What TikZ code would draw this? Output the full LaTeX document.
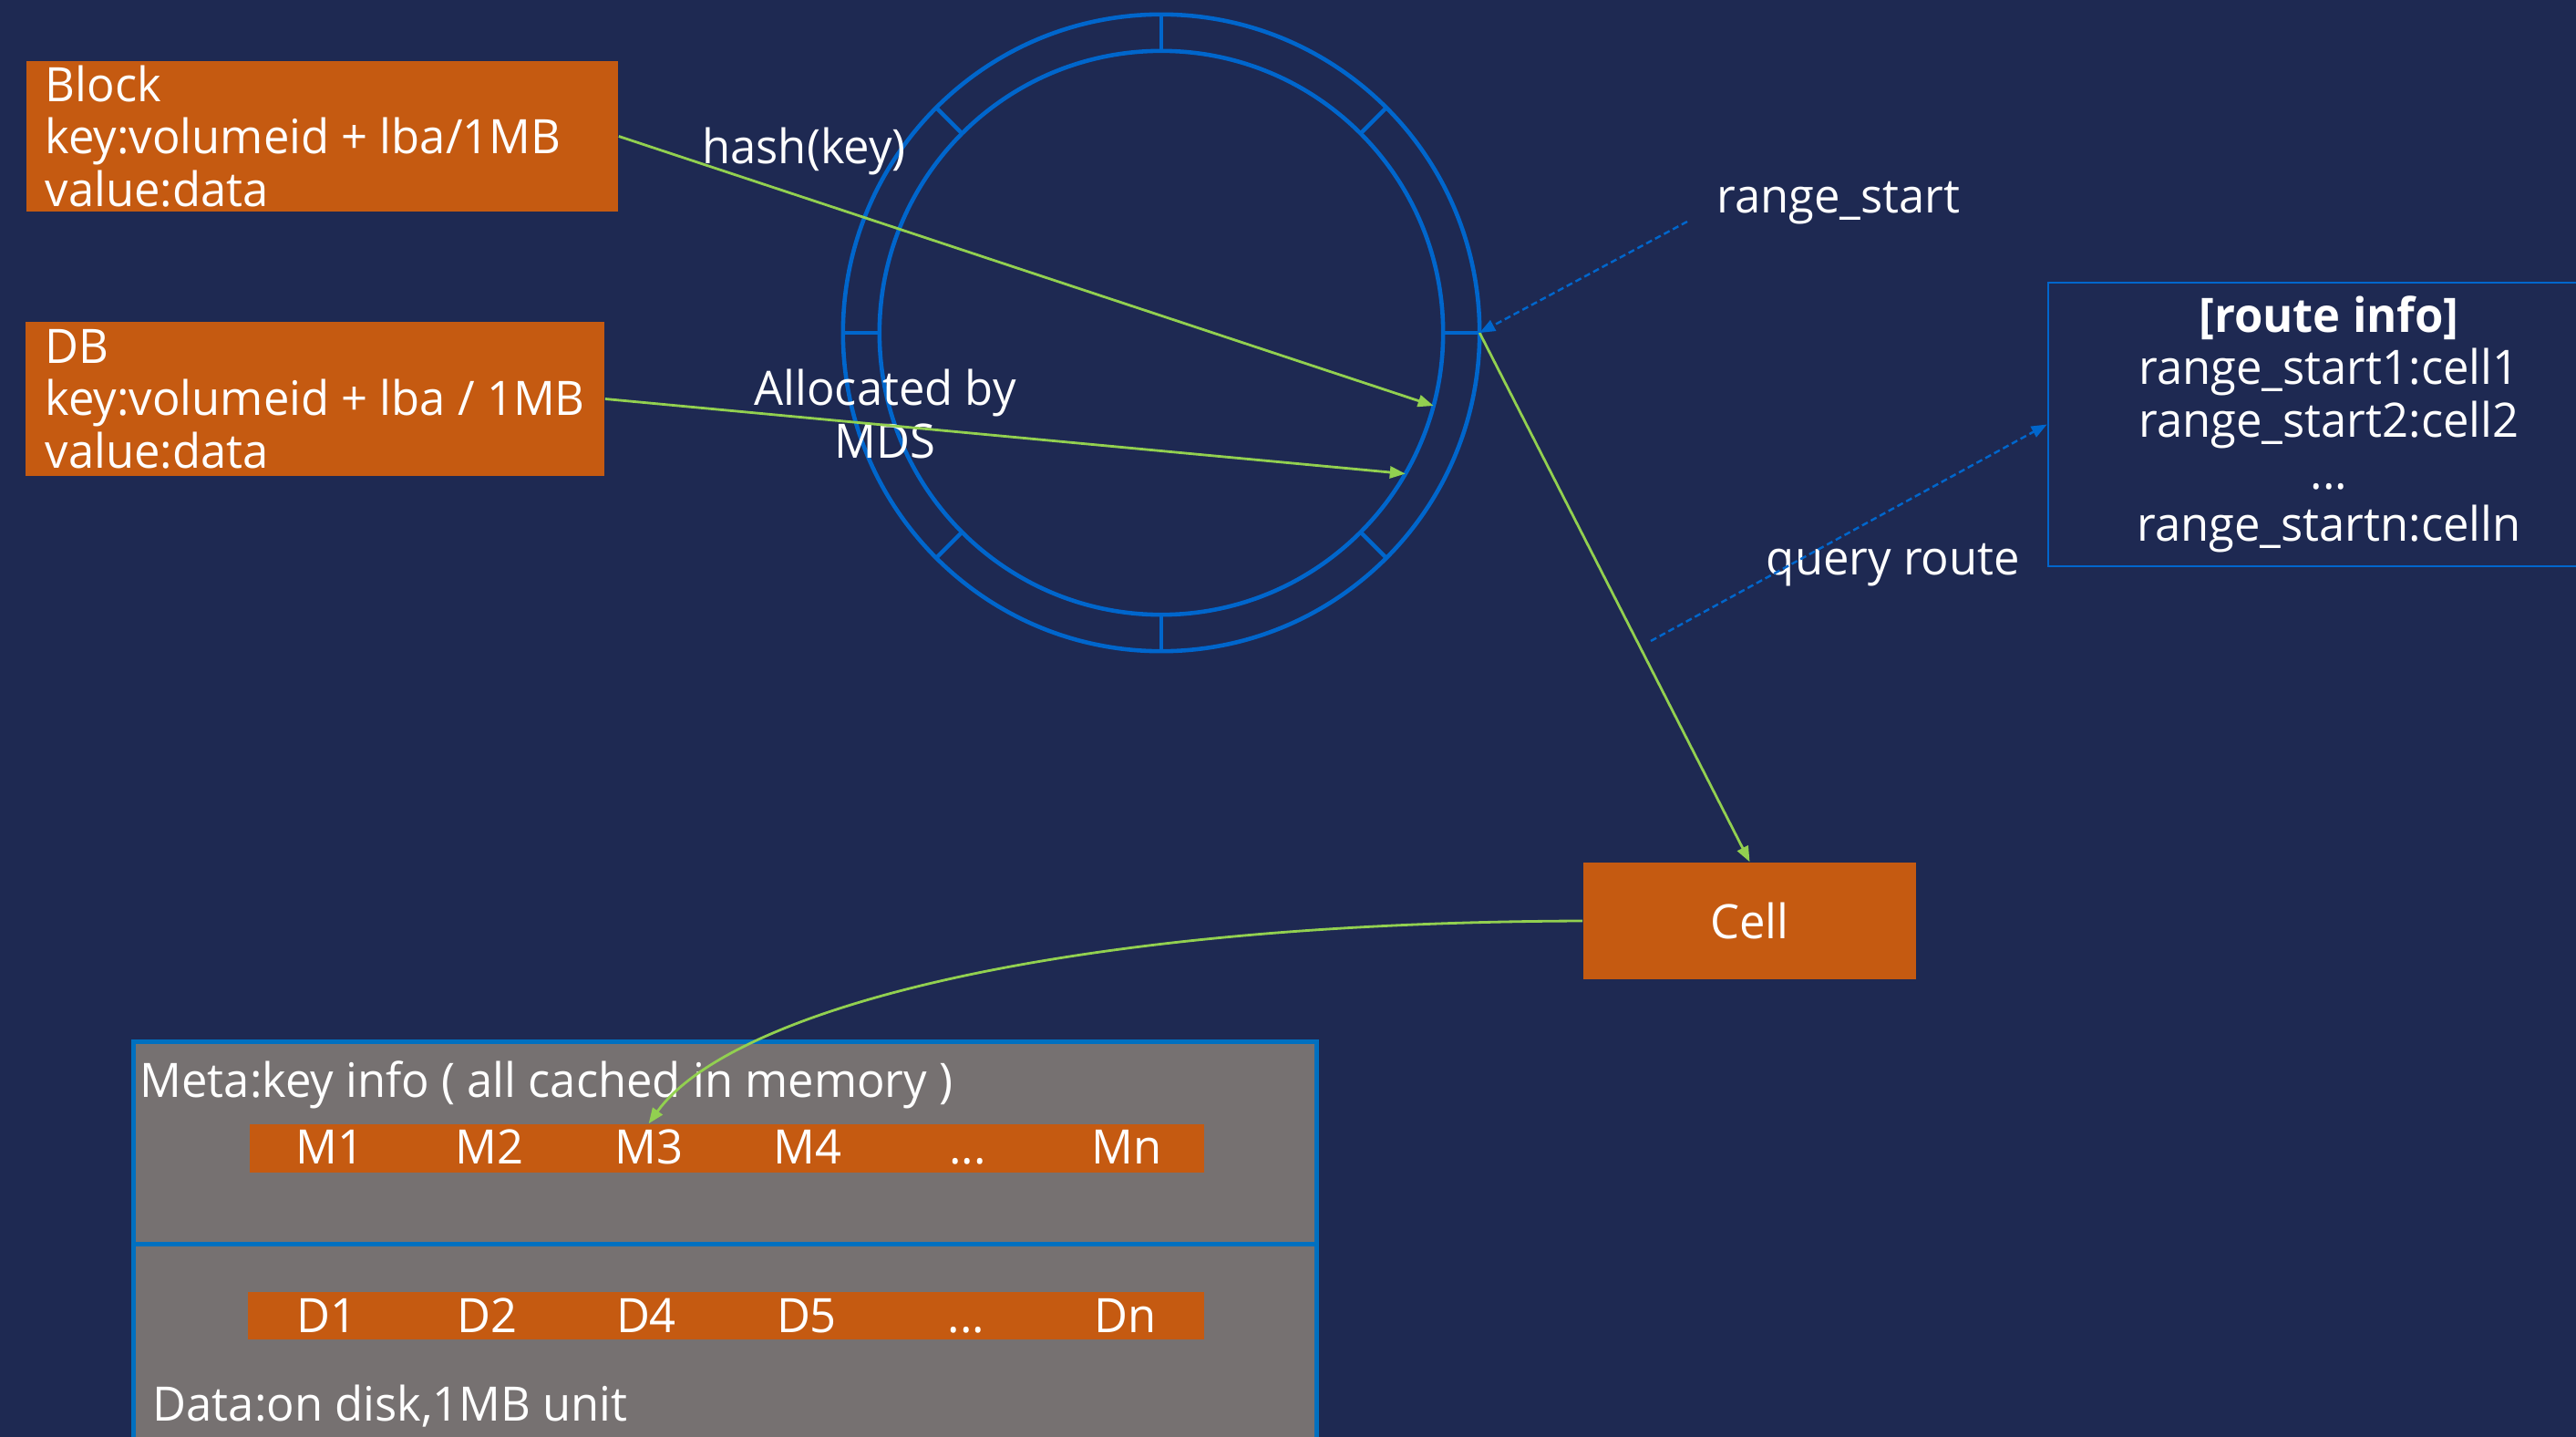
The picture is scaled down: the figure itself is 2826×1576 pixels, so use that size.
\documentclass[tikz,border=0pt]{standalone}
\usepackage{fontspec}
\setmainfont[FakeStretch=0.975]{Open Sans}
\usetikzlibrary{arrows.meta,calc}
\definecolor{bg}{HTML}{1E2952}
\definecolor{orng}{HTML}{C55A11}
\definecolor{ringblue}{HTML}{0066CC}
\definecolor{grn}{HTML}{92D050}
\definecolor{gry}{HTML}{767171}
\definecolor{boxblue}{HTML}{0070C0}
\newcommand\fsz{\fontsize{14.8}{16.3}\selectfont}
\newcommand\tdots{...}
\begin{document}
\begin{tikzpicture}[x=0.01cm,y=-0.01cm,
  txt/.style={text=white,inner sep=0pt,font=\fsz},
  obox/.style={fill=orng,draw=none,inner sep=0pt},
  ringnode/.style={circle,draw=ringblue,line width=1.3pt,inner sep=0pt,outer sep=0pt},
  ringtick/.style={draw=ringblue,line width=1.3pt},
  garrow/.style={draw=grn,line width=0.8pt,-{Triangle[length=0.17cm,width=0.13cm]}},
  barrow/.style={draw=ringblue,line width=0.7pt,dash pattern=on 0.07cm off 0.04cm,-{Triangle[length=0.17cm,width=0.13cm]}},
  gbox/.style={fill=gry,draw=boxblue,line width=1.4pt,inner sep=0pt},
  rbox/.style={draw=ringblue,line width=0.7pt,text=white,font=\fsz,inner sep=0pt},
  bar/.style={fill=orng,draw=none,inner sep=0pt}]
\useasboundingbox (0,0) rectangle (2826,1576);
\clip (0,0) rectangle (2826,1576);
\fill[bg] (0,0) rectangle (2826,1576);

% key boxes
\node[obox,minimum width=6.49cm,minimum height=1.65cm] (block) at (353.5,149.5) {};
\node[txt,anchor=west,align=left] (blocktxt) at (49,149.5) {Block\\key:volumeid + lba/1MB\\value:data};
\node[obox,minimum width=6.35cm,minimum height=1.69cm] (db) at (345.5,437.5) {};
\node[txt,anchor=west,align=left] (dbtxt) at (49,437.5) {DB\\key:volumeid + lba / 1MB\\value:data};

% ring
\coordinate (rc) at (1274,365);
\node[ringnode,minimum size=6.98cm] (ring) at (rc) {};
\node[ringnode,minimum size=6.18cm] (ringin) at (rc) {};
\foreach \a in {0,45,...,315} \draw[ringtick] (ringin.\a) -- (ring.\a);

% cell
\node[obox,minimum width=3.65cm,minimum height=1.28cm,text=white,font=\fsz] (cell) at (1919.5,1010) {Cell};

% route info
\node[rbox,minimum width=6.16cm,minimum height=3.11cm,align=center] (route) at (2555,465.5)
  {\textbf{[route info]}\\range\_start1:cell1\\range\_start2:cell2\\...\\range\_startn:celln};

% storage boxes
\node[gbox,minimum width=12.97cm,minimum height=3cm] (data) at (795.5,1514) {};
\node[gbox,minimum width=12.97cm,minimum height=2.21cm] (meta) at (795.5,1253.5) {};
\node[txt,anchor=base west] (metatxt) at (153,1203) {Meta:key info ( all cached in memory )};
\node[bar,minimum width=10.47cm,minimum height=0.53cm] (mbar) at (797.5,1259.5) {};
\node[bar,minimum width=10.49cm,minimum height=0.52cm] (dbar) at (796.5,1443) {};
\foreach \nm/\x/\t in {m1/361.6/M1,m2/536.6/M2,m3/711.6/M3,m4/885.7/M4,mdots/1061.6/\tdots,mn/1235.7/Mn}
  \node[txt,anchor=base] (\nm) at (\x,1276) {\t};
\foreach \nm/\x/\t in {d1/359/D1,d2/535/D2,d4/709/D4,d5/885/D5,ddots/1060/\tdots,dn/1235/Dn}
  \node[txt,anchor=base] (\nm) at (\x,1461) {\t};
\node[txt,anchor=base west] (datatxt) at (167,1558) {Data:on disk,1MB unit};

% labels
\node[txt,anchor=base] (hashlbl) at (882,180) {hash(key)};
\node[txt,align=center] (alloclbl) at (971,454) {Allocated by\\MDS};
\node[txt,anchor=base] (rslbl) at (2017,234) {range\_start};
\node[txt,anchor=base] (qrlbl) at (2077,630) {query route};

% connectors
\draw[garrow] (block.east) -- (ringin.-15);
\draw[garrow] (db.east) -- (ringin.-30.5);
\draw[garrow] (ring.east) -- (cell.north);
\draw[garrow] (cell.west) .. controls (1150,1012) and (800,1110) .. (m3 |- mbar.north);
\coordinate (rsfrom) at (1851,243);
\draw[barrow] (rsfrom) -- (ring.east);
\coordinate (qrfrom) at (1811,703);
\draw[barrow] (qrfrom) -- (route.west);
\end{tikzpicture}
\end{document}
